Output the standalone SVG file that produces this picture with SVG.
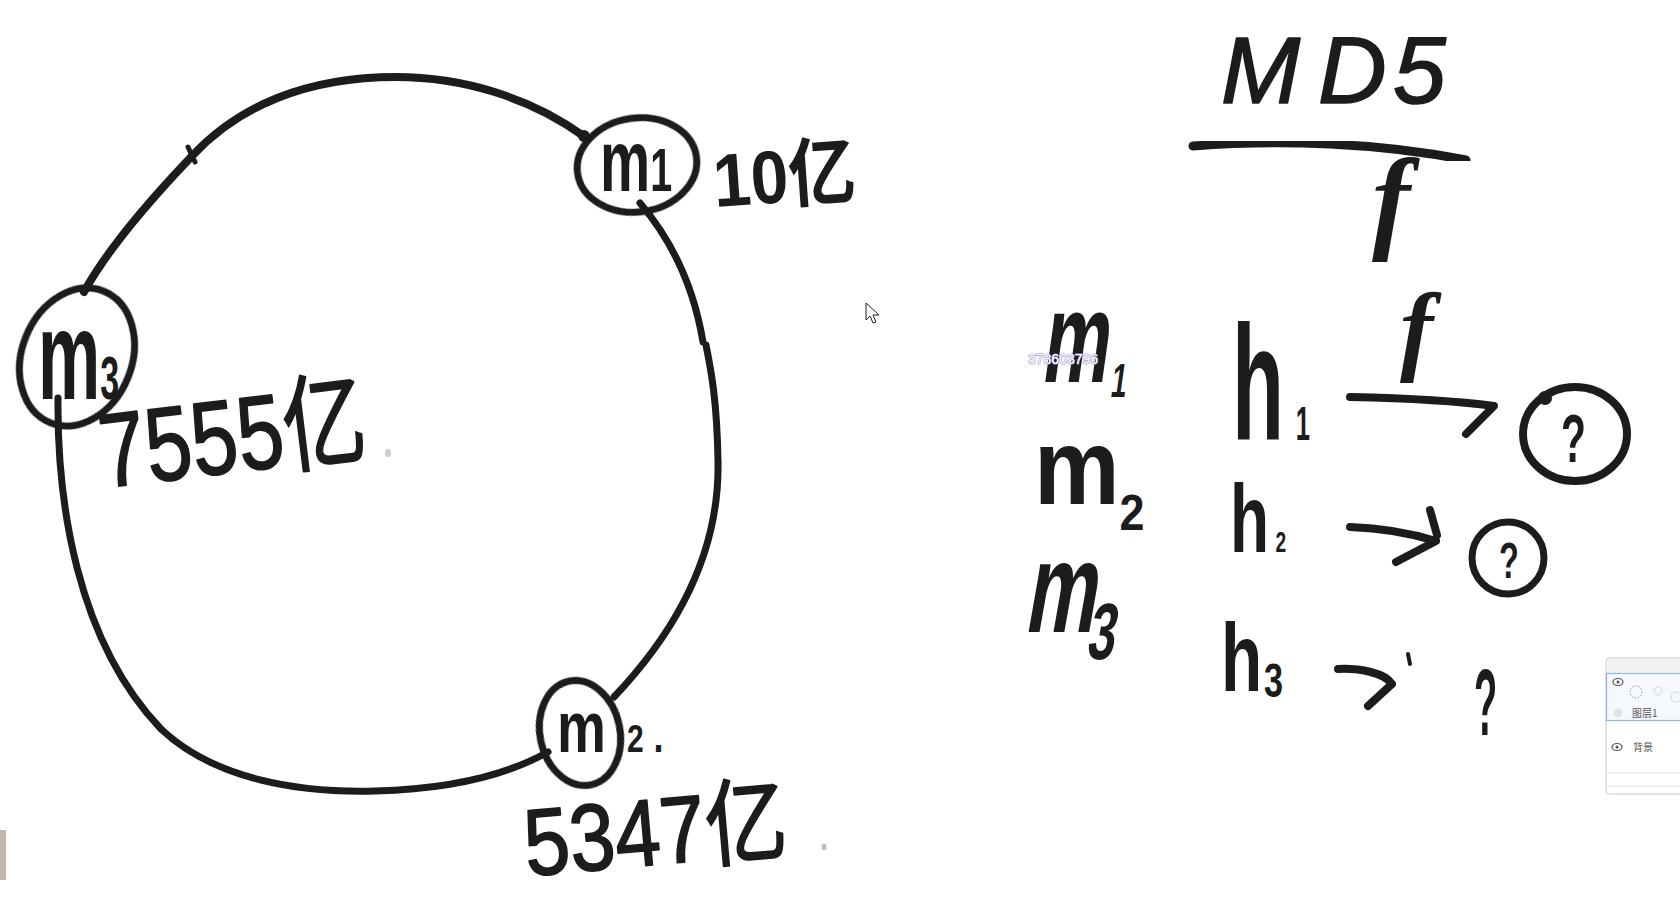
<svg xmlns="http://www.w3.org/2000/svg" width="1680" height="899" viewBox="0 0 1680 899">
<defs>
<style>
.ink{fill:none;stroke:#1c1c1c;stroke-linecap:round;stroke-linejoin:round;}
.hw{font-family:"Liberation Sans","Noto Sans CJK SC",sans-serif;font-weight:bold;fill:#1c1c1c;}
.hn{font-family:"Liberation Sans","Noto Sans CJK SC",sans-serif;font-weight:normal;fill:#1c1c1c;stroke:#1c1c1c;stroke-width:1.6;stroke-linejoin:round;}
.fn{font-family:"Liberation Serif",serif;font-style:italic;font-weight:bold;fill:#1c1c1c;}
.ui{font-family:"Noto Sans CJK SC","Liberation Sans",sans-serif;fill:#555;}
</style>
<filter id="soft" x="-5%" y="-5%" width="110%" height="110%"><feGaussianBlur stdDeviation="0.7"/></filter>
</defs>
<rect x="0" y="0" width="1680" height="899" fill="#ffffff"/>

<!-- ring connectors -->
<g id="connectors" filter="url(#soft)">
<path class="ink" stroke-width="8" d="M 585 137 C 530 97, 462 77, 396 77 C 305 77, 238 107, 193 155 C 150 200, 108 248, 84 292"/>
<path class="ink" stroke-width="5" d="M 188 147 L 195 162"/>
<path class="ink" stroke-width="7" d="M 58 398 C 57 500, 76 640, 161 729 C 215 780, 300 793, 375 791 C 450 789, 505 776, 548 752"/>
<path class="ink" stroke-width="7" d="M 614 697 C 670 638, 720 560, 718 461 C 717 400, 711 370, 706 345 M 703 342 C 696 300, 680 250, 640 203"/>
<path class="ink" stroke-width="8" d="M 1350 397 C 1400 398, 1450 400, 1494 406 L 1466 434"/>
<path class="ink" stroke-width="8" d="M 1350 527 C 1380 528, 1410 533, 1436 541 L 1396 562 M 1430 510 L 1437 535"/>
<path class="ink" stroke-width="8" d="M 1338 669 C 1360 668, 1385 673, 1392 684 L 1368 706"/>
<path class="ink" stroke-width="4" stroke="#bbbbbb" d="M 1408 654 L 1410 664"/>
</g>

<g id="node-m1">
<ellipse class="ink" stroke-width="7" cx="637" cy="165" rx="60" ry="47" transform="rotate(-8 637 165)" filter="url(#soft)"/>
<circle cx="584" cy="136" r="6" fill="#1c1c1c"/>
<text class="hw" transform="translate(600 191) scale(0.94 1.45)" font-size="60">m<tspan font-size="42">1</tspan></text>
</g>
<g id="label-m1-pos">
<text class="hw" transform="translate(715 207) rotate(-4) scale(0.9 1)" font-size="75">10亿</text>
</g>

<g id="node-m3">
<ellipse class="ink" stroke-width="7" cx="77" cy="357" rx="55" ry="71" transform="rotate(22 77 357)" filter="url(#soft)"/>
<text class="hw" transform="translate(38 399) scale(1 1.8)" font-size="70">m<tspan font-size="34">3</tspan></text>
</g>
<g id="label-m3-pos">
<text class="hn" transform="translate(104 488) rotate(-7) scale(0.83 1.05)" font-size="100">7555亿</text>
<ellipse cx="388" cy="453" rx="3" ry="4" fill="#cccccc"/>
</g>

<g id="node-m2">
<ellipse class="ink" stroke-width="7" cx="580" cy="733" rx="40" ry="53" transform="rotate(-12 580 733)" filter="url(#soft)"/>
<text class="hw" transform="translate(557 752) scale(1 1.3)" font-size="55">m<tspan font-size="30" dx="21">2</tspan><tspan font-size="36" dx="10">.</tspan></text>
</g>
<g id="label-m2-pos">
<text class="hn" transform="translate(527 876) rotate(-5) scale(0.95 1.1)" font-size="86">5347亿<tspan fill="#bdbdbd" stroke="none" font-size="50" dx="30">.</tspan></text>
</g>

<g id="formula">
<text class="hn" font-style="italic" font-size="95" x="1221 1318 1393" y="103">MD5</text>
<path class="ink" stroke-width="9" d="M 1193 146 C 1280 139, 1380 143, 1466 160" filter="url(#soft)"/>
<text class="fn" font-size="115" x="1372" y="238">f</text>
</g>

<g id="row1">
<text class="hw" transform="translate(1040 382) skewX(-8) scale(1 1.72)" font-size="75">m<tspan font-size="28" dx="5" dy="9">1</tspan></text>
<text class="hw" transform="translate(1232 440) scale(0.85 1.63)" font-size="100">h<tspan font-size="30" dx="14">1</tspan></text>
<text class="fn" font-size="100" x="1400" y="362">f</text>
<ellipse class="ink" stroke-width="8" cx="1575" cy="434" rx="52" ry="47" filter="url(#soft)"/>
<circle cx="1545" cy="398" r="7" fill="#1c1c1c"/>
<text class="hw" transform="translate(1561 462) scale(0.6 1)" font-size="68">?</text>
</g>

<g id="row2">
<text class="hw" transform="translate(1034 504) scale(1.07 1.2)" font-size="90">m<tspan font-size="42" dy="22">2</tspan></text>
<text class="hw" transform="translate(1230 552) scale(0.8 1.2)" font-size="80">h<tspan font-size="24" dx="8">2</tspan></text>
<ellipse class="ink" stroke-width="7" cx="1508" cy="558" rx="36" ry="36" filter="url(#soft)"/>
<text class="hw" transform="translate(1499 578) scale(0.65 1)" font-size="50">?</text>
</g>

<g id="row3">
<text class="hw" transform="translate(1023 632) skewX(-10) scale(1 1.6)" font-size="80">m<tspan font-size="50" dx="-4" dy="17">3</tspan></text>
<text class="hw" transform="translate(1221 691) scale(0.9 1.28)" font-size="75">h<tspan font-size="38" dx="2" dy="5">3</tspan></text>
<text class="hw" transform="translate(1474 735) scale(0.4 1)" font-size="95">?</text>
</g>

<g id="watermark">
<text x="1028" y="364" font-family="Liberation Sans, sans-serif" font-size="14" fill="#ffffff" stroke="#9c92d6" stroke-width="1.2" paint-order="stroke">378603796</text>
</g>

<g id="cursor">
<path d="M 866 303 L 866 320 L 870 316 L 873 323 L 876 322 L 873 315 L 879 315 Z" fill="#ffffff" stroke="#222" stroke-width="1"/>
</g>

<g id="layer-panel">
<rect x="1606" y="658" width="80" height="136" rx="3" fill="#ffffff" stroke="#c8c8c8" stroke-width="1"/>
<rect x="1607" y="659" width="73" height="14" fill="#f2f2f2"/>
<rect x="1606.5" y="673.5" width="80" height="47" fill="#f5f9fd" stroke="#93b6de" stroke-width="1.2"/>
<ellipse cx="1618" cy="682" rx="5" ry="3.5" fill="none" stroke="#555" stroke-width="1.2"/>
<circle cx="1618" cy="682" r="1.5" fill="#555"/>
<circle cx="1636" cy="692" r="6" fill="none" stroke="#777" stroke-width="0.8" stroke-dasharray="1.5 1.5"/>
<circle cx="1658" cy="691" r="4" fill="none" stroke="#888" stroke-width="0.8" stroke-dasharray="1 1.5"/>
<circle cx="1676" cy="697" r="5" fill="none" stroke="#888" stroke-width="0.8" stroke-dasharray="1 1.5"/>
<circle cx="1618" cy="713" r="4.5" fill="#e2e2e2"/>
<text class="ui" x="1632" y="717" font-size="10">图层1</text>
<ellipse cx="1617" cy="747" rx="5" ry="3.5" fill="none" stroke="#555" stroke-width="1.2"/>
<circle cx="1617" cy="747" r="1.5" fill="#555"/>
<text class="ui" x="1633" y="751" font-size="10">背景</text>
<line x1="1606" y1="773" x2="1680" y2="773" stroke="#e0e0e0"/>
<line x1="1606" y1="786" x2="1680" y2="786" stroke="#e0e0e0"/>
</g>

<rect x="0" y="830" width="6" height="50" fill="#c4b6ae"/>
</svg>
